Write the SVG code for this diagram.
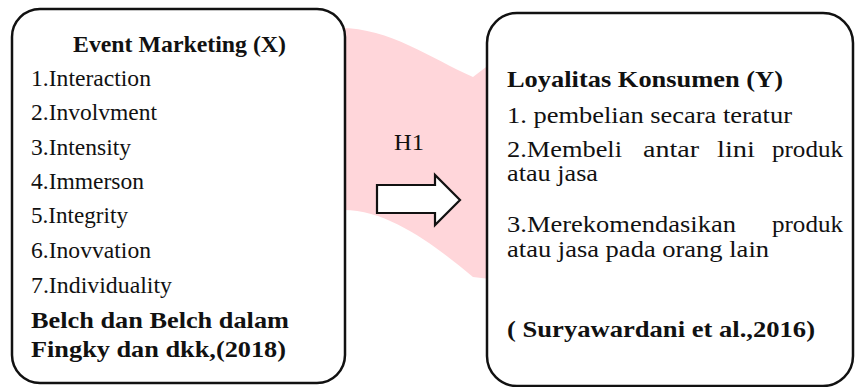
<svg xmlns="http://www.w3.org/2000/svg" width="855" height="387" viewBox="0 0 855 387">
<style>
.box{fill:#fff;stroke:#111;stroke-width:2.5}
.t{font-size:23px;fill:#111}
.b{font-weight:bold}
</style>
<rect width="855" height="387" fill="#fff"/>
<g id="band">
<path d="M340,28 C390,28 430,58 473,77 L490,64 L490,279 L473,277 C440,250 390,208 340,210 Z" fill="#FFD6DA"/>
</g>
<g font-family="'Liberation Serif', 'DejaVu Serif', 'Times New Roman', serif">
<g id="node-x">
<rect class="box" x="12" y="9" width="333" height="374" rx="28"/>
<text class="t b" x="73" y="52" textLength="213" lengthAdjust="spacingAndGlyphs">Event Marketing (X)</text>
<text class="t" x="31" y="86" textLength="120" lengthAdjust="spacingAndGlyphs">1.Interaction</text>
<text class="t" x="31" y="120" textLength="126" lengthAdjust="spacingAndGlyphs">2.Involvment</text>
<text class="t" x="31" y="155" textLength="100" lengthAdjust="spacingAndGlyphs">3.Intensity</text>
<text class="t" x="31" y="189" textLength="113" lengthAdjust="spacingAndGlyphs">4.Immerson</text>
<text class="t" x="31" y="223" textLength="97" lengthAdjust="spacingAndGlyphs">5.Integrity</text>
<text class="t" x="31" y="258" textLength="120" lengthAdjust="spacingAndGlyphs">6.Inovvation</text>
<text class="t" x="31" y="293" textLength="141" lengthAdjust="spacingAndGlyphs">7.Individuality</text>
<text class="t b" x="31" y="328" textLength="258" lengthAdjust="spacingAndGlyphs">Belch dan Belch dalam</text>
<text class="t b" x="31" y="357" textLength="255" lengthAdjust="spacingAndGlyphs">Fingky dan dkk,(2018)</text>
</g>
<g id="node-y">
<rect class="box" x="487" y="13" width="366" height="373" rx="30"/>
<text class="t b" x="507" y="87" textLength="276" lengthAdjust="spacingAndGlyphs">Loyalitas Konsumen (Y)</text>
<text class="t" x="507" y="123" textLength="285" lengthAdjust="spacingAndGlyphs">1. pembelian secara teratur</text>
<text class="t" x="507" y="157" textLength="115" lengthAdjust="spacingAndGlyphs">2.Membeli</text>
<text class="t" x="643" y="157" textLength="56" lengthAdjust="spacingAndGlyphs">antar</text>
<text class="t" x="717" y="157" textLength="38" lengthAdjust="spacingAndGlyphs">lini</text>
<text class="t" x="772" y="157" textLength="71" lengthAdjust="spacingAndGlyphs">produk</text>
<text class="t" x="507" y="181" textLength="91" lengthAdjust="spacingAndGlyphs">atau jasa</text>
<text class="t" x="507" y="232" textLength="229" lengthAdjust="spacingAndGlyphs">3.Merekomendasikan</text>
<text class="t" x="772" y="232" textLength="71" lengthAdjust="spacingAndGlyphs">produk</text>
<text class="t" x="507" y="257" textLength="262" lengthAdjust="spacingAndGlyphs">atau jasa pada orang lain</text>
<text class="t b" x="507" y="337" textLength="308" lengthAdjust="spacingAndGlyphs">( Suryawardani et al.,2016)</text>
</g>
<g id="connectors">
<text class="t" x="394" y="150" textLength="30" lengthAdjust="spacingAndGlyphs">H1</text>
<polygon points="377,185 435,185 435,175 460,200 435,225 435,213 377,213" fill="#fff" stroke="#111" stroke-width="2.2" stroke-linejoin="miter"/>
</g>
</g>
</svg>
